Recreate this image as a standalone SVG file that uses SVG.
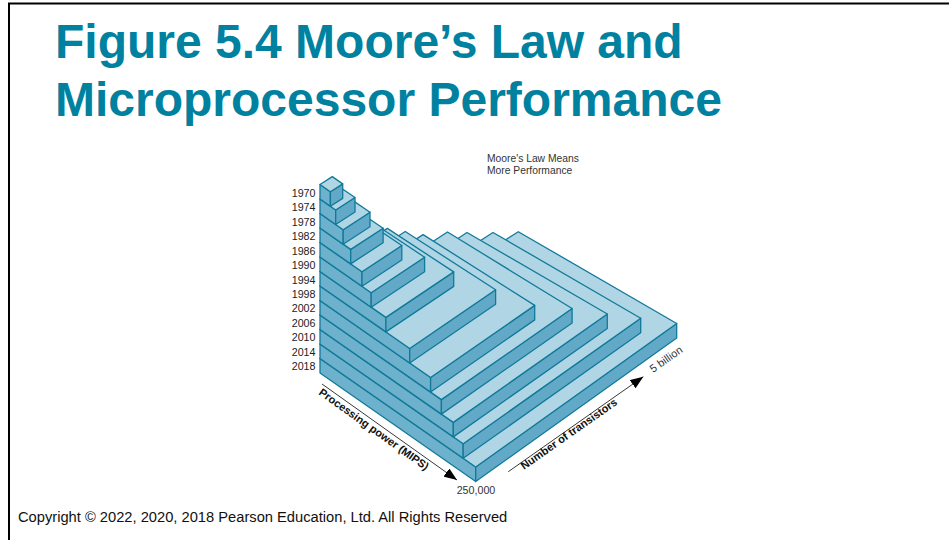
<svg xmlns="http://www.w3.org/2000/svg" width="949" height="540" viewBox="0 0 949 540">
<style>
.top{fill:#b0d6e6;stroke:#117a99;stroke-width:1.3;stroke-linejoin:round}
.lf{fill:#6db1cd;stroke:#117a99;stroke-width:1.3;stroke-linejoin:round}
.rf{fill:#62a9c7;stroke:#117a99;stroke-width:1.3;stroke-linejoin:round}
.yr{font-family:"Liberation Sans",Arial,sans-serif;font-size:10.7px;fill:#222;text-anchor:end}
.ax{font-family:"Liberation Sans",Arial,sans-serif;font-size:11px;font-weight:bold;fill:#111}
.sm{font-family:"Liberation Sans",Arial,sans-serif;font-size:10.3px;fill:#333}
.title{font-family:"Liberation Sans",Arial,sans-serif;font-size:48px;font-weight:bold;fill:#00819f}
.axl{stroke:#222;stroke-width:0.9;fill:none}
</style>
<defs>
<marker id="ah" markerUnits="userSpaceOnUse" markerWidth="14" markerHeight="10" refX="13" refY="5" orient="auto">
<path d="M0,0 L13,5 L0,10 Z" fill="#000"/>
</marker>
</defs>
<rect width="949" height="540" fill="#fff"/>
<g id="frame" stroke="#000" stroke-width="2" fill="none">
<line x1="8" y1="3.5" x2="949" y2="3.5"/>
<line x1="9" y1="3.5" x2="9" y2="540"/>
</g>
<g id="title">
<text class="title" x="55" y="58">Figure 5.4 Moore’s Law and</text>
<text class="title" x="55" y="116">Microprocessor Performance</text>
</g>
<g id="caption">
<text class="sm" x="487" y="161.5">Moore's Law Means</text>
<text class="sm" x="487" y="174">More Performance</text>
</g>
<g id="layers">
<g id="y2018">
<polygon class="lf" points="320,358.5 475.7,467 475.7,481.5 320,373"/>
<polygon class="rf" points="475.7,467 676.7,323.5 676.7,338 475.7,481.5"/>
<polygon class="top" points="320,358.5 475.7,467 676.7,323.5 518.3,231.7"/>
</g>
<g id="y2014">
<polygon class="lf" points="320,344 463.2,443.8 463.2,458.3 320,358.5"/>
<polygon class="rf" points="463.2,443.8 640.7,318.2 640.7,332.7 463.2,458.3"/>
<polygon class="top" points="320,344 463.2,443.8 640.7,318.2 493,232.5"/>
</g>
<g id="y2010">
<polygon class="lf" points="320,329.5 453.3,422.4 453.3,436.9 320,344"/>
<polygon class="rf" points="453.3,422.4 607.3,314 607.3,328.5 453.3,436.9"/>
<polygon class="top" points="320,329.5 453.3,422.4 607.3,314 467,232.5"/>
</g>
<g id="y2006">
<polygon class="lf" points="320,315 441.4,399.6 441.4,414.1 320,329.5"/>
<polygon class="rf" points="441.4,399.6 572.1,308.5 572.1,323 441.4,414.1"/>
<polygon class="top" points="320,315 441.4,399.6 572.1,308.5 447.5,232"/>
</g>
<g id="y2002">
<polygon class="lf" points="320,300.5 430.6,377.5 430.6,392 320,315"/>
<polygon class="rf" points="430.6,377.5 534.7,305.4 534.7,319.9 430.6,392"/>
<polygon class="top" points="320,300.5 430.6,377.5 534.7,305.4 423.1,234.6"/>
</g>
<g id="y1998">
<polygon class="lf" points="320,286 409.7,348.5 409.7,363 320,300.5"/>
<polygon class="rf" points="409.7,348.5 495.6,289.8 495.6,304.3 409.7,363"/>
<polygon class="top" points="320,286 409.7,348.5 495.6,289.8 405.3,231.5"/>
</g>
<g id="y1994">
<polygon class="lf" points="320,271.5 385.9,317.4 385.9,331.9 320,286"/>
<polygon class="rf" points="385.9,317.4 453.7,271.9 453.7,286.4 385.9,331.9"/>
<polygon class="top" points="320,271.5 385.9,317.4 453.7,271.9 387.4,228.4"/>
</g>
<g id="y1990">
<polygon class="lf" points="320,257 371.2,292.7 371.2,307.2 320,271.5"/>
<polygon class="rf" points="371.2,292.7 424.6,257.2 424.6,271.7 371.2,307.2"/>
<polygon class="top" points="320,257 371.2,292.7 424.6,257.2 373.1,223"/>
</g>
<g id="y1986">
<polygon class="lf" points="320,242.5 362,271.8 362,286.3 320,257"/>
<polygon class="rf" points="362,271.8 401.8,245.5 401.8,260 362,286.3"/>
<polygon class="top" points="320,242.5 362,271.8 401.8,245.5 359.7,217.1"/>
</g>
<g id="y1982">
<polygon class="lf" points="320,228 350.7,249.4 350.7,263.9 320,242.5"/>
<polygon class="rf" points="350.7,249.4 383.1,228.2 383.1,242.7 350.7,263.9"/>
<polygon class="top" points="320,228 350.7,249.4 383.1,228.2 352.3,207.3"/>
</g>
<g id="y1978">
<polygon class="lf" points="320,213.5 343.2,229.7 343.2,244.2 320,228"/>
<polygon class="rf" points="343.2,229.7 370,212.2 370,226.7 343.2,244.2"/>
<polygon class="top" points="320,213.5 343.2,229.7 370,212.2 346.8,196.4"/>
</g>
<g id="y1974">
<polygon class="lf" points="320,199 335.7,210 335.7,224.5 320,213.5"/>
<polygon class="rf" points="335.7,210 355,197.5 355,212 335.7,224.5"/>
<polygon class="top" points="320,199 335.7,210 355,197.5 339.2,186.7"/>
</g>
<g id="y1970">
<polygon class="lf" points="320,184.5 330.4,191.8 330.4,206.3 320,199"/>
<polygon class="rf" points="330.4,191.8 342.7,183.9 342.7,198.4 330.4,206.3"/>
<polygon class="top" points="320,184.5 330.4,191.8 342.7,183.9 332.3,176.6"/>
</g>
</g>
<g id="years">
<text class="yr" x="315.5" y="197">1970</text>
<text class="yr" x="315.5" y="211.4">1974</text>
<text class="yr" x="315.5" y="225.8">1978</text>
<text class="yr" x="315.5" y="240.3">1982</text>
<text class="yr" x="315.5" y="254.7">1986</text>
<text class="yr" x="315.5" y="269.1">1990</text>
<text class="yr" x="315.5" y="283.5">1994</text>
<text class="yr" x="315.5" y="297.9">1998</text>
<text class="yr" x="315.5" y="312.4">2002</text>
<text class="yr" x="315.5" y="326.8">2006</text>
<text class="yr" x="315.5" y="341.2">2010</text>
<text class="yr" x="315.5" y="355.6">2014</text>
<text class="yr" x="315.5" y="370">2018</text>
</g>
<g id="connectors">
<line class="axl" x1="322" y1="384" x2="457" y2="480" marker-end="url(#ah)"/>
<line class="axl" x1="508.3" y1="471.7" x2="643.3" y2="376.7" marker-end="url(#ah)"/>
</g>
<g id="axis-labels">
<text class="ax" transform="translate(318,394) rotate(35.5)">Processing power (MIPS)</text>
<text class="ax" transform="translate(524,470) rotate(-35.1)">Number of transistors</text>
<text class="sm" style="font-size:11px" transform="translate(653,373) rotate(-35)">5 billion</text>
<text class="sm" style="font-size:10.7px" x="476" y="494" text-anchor="middle">250,000</text>
</g>
<text x="18" y="522" font-family="Liberation Sans, Arial, sans-serif" font-size="14.7" fill="#111">Copyright © 2022, 2020, 2018 Pearson Education, Ltd. All Rights Reserved</text>
</svg>
